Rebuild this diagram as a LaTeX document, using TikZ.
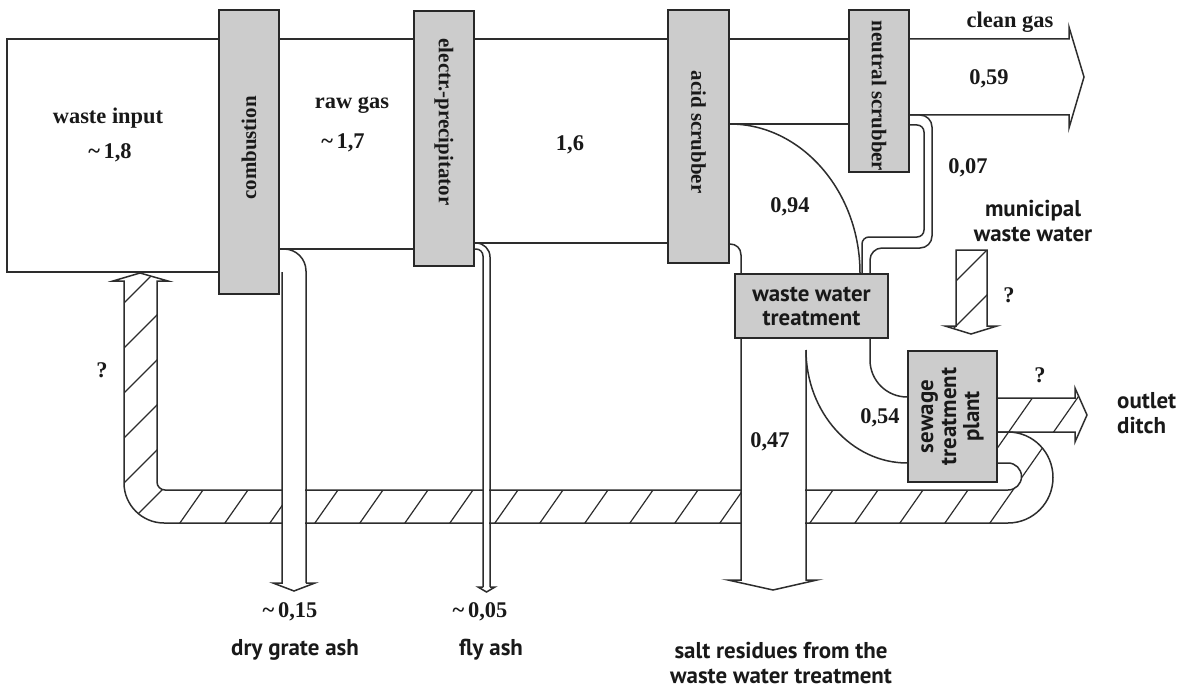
\documentclass[tikz,border=0pt]{standalone}
\usepackage{fontspec}
\setmainfont{Liberation Serif}
\newfontfamily\flaredfont{PT Sans}
\definecolor{linec}{RGB}{45,45,45}
\definecolor{boxfill}{RGB}{204,204,204}
\definecolor{boxline}{RGB}{40,40,40}
\definecolor{txtc}{RGB}{25,25,25}
\pgfdeclarelayer{flows}
\pgfsetlayers{flows,main}
\newcommand{\mainfnt}{\fontsize{22.5}{26}\selectfont\bfseries}
\newcommand{\boxfnt}{\fontsize{21}{24}\selectfont\bfseries}
\newcommand{\flfnt}{\flaredfont\fontsize{23}{26}\selectfont\bfseries}
\newcommand{\bandshape}{(997,432) -- (1008,432) .. controls (1033.1,432) and (1053,452.4) .. (1053,477.5) .. controls (1053,502.6) and (1033.1,523) .. (1008,523) -- (164,523) .. controls (142,523) and (124,505) .. (124,483) -- (124,281) -- (113,281) -- (140,273) -- (168,281) -- (157,281) -- (157,482) .. controls (157,486.4) and (160.6,490) .. (165,490) -- (1008,490) .. controls (1015.5,490) and (1021.5,484) .. (1021.5,476.5) .. controls (1021.5,469) and (1015.5,463) .. (1008,463) -- (997,463) -- cycle}
\newcommand{\outletshape}{(997,398) -- (1075,398) -- (1075,388) -- (1087,415) -- (1075,442) -- (1075,432) -- (997,432) -- cycle}
\newcommand{\munishape}{(956,250) -- (987,250) -- (987,326) -- (997,326) -- (971,334) -- (945,326) -- (956,326) -- cycle}
\newcommand{\hatchA}{\foreach \c in {6,51,...,1806} \draw[hatchln] (\c,0) -- ({\c-490},700);}
\newcommand{\hatchB}{\foreach \c in {22,67,...,1822} \draw[hatchln] (\c,0) -- ({\c-700},700);}
\begin{document}
\begin{tikzpicture}[x=1bp,y=-1bp,
  ln/.style={draw=linec,line width=1.5bp},
  hatchln/.style={draw=linec,line width=1.2bp},
  unitbox/.style={draw=boxline,line width=1.7bp,fill=boxfill,rectangle,inner sep=0pt},
  lbl/.style={text=txtc,inner sep=0pt,font=\mainfnt},
  boxlbl/.style={text=txtc,inner sep=0pt,font=\boxfnt},
  flbl/.style={text=txtc,inner sep=0pt,font=\flfnt,align=center}]
\useasboundingbox (0,0) rectangle (1177,689);

% process units
\node[unitbox,minimum width=60bp,minimum height=284bp] (comb) at (249,152) {};
\node[unitbox,minimum width=60bp,minimum height=255bp] (elp) at (444,138.5) {};
\node[unitbox,minimum width=61bp,minimum height=253bp] (acid) at (698.5,136.5) {};
\node[unitbox,minimum width=60bp,minimum height=162bp] (neut) at (879,91) {};
\node[unitbox,minimum width=153bp,minimum height=64bp] (wwt) at (811.5,306) {};
\node[unitbox,minimum width=89bp,minimum height=131bp] (stp) at (952.5,416.5) {};

\begin{pgfonlayer}{flows}
\fill[white] (0,0) rectangle (1177,689);
% recirculation band (hatched)
\begin{scope}
\clip \bandshape;
\begin{scope}
\clip (168,0) rectangle (1177,689);
\hatchA
\end{scope}
\begin{scope}
\clip (0,0) rectangle (168,689);
\hatchB
\end{scope}
\end{scope}
\draw[ln] \bandshape;
% outlet ditch arrow (hatched)
\begin{scope}
\clip \outletshape;
\hatchA
\end{scope}
\draw[ln] \outletshape;
% municipal waste water arrow (hatched)
\begin{scope}
\clip \munishape;
\hatchB
\end{scope}
\draw[ln] \munishape;

% waste input
\draw[ln] (comb.west |- 0,39) -- (7,39) -- (7,272) -- (comb.west |- 0,272);
% raw gas
\draw[ln] (comb.east |- 0,39) -- (elp.west |- 0,39);
\draw[ln] (comb.east |- 0,249) -- (elp.west |- 0,249);
% 1,6
\draw[ln] (elp.east |- 0,39) -- (acid.west |- 0,39);
\draw[ln] (elp.east |- 0,243) -- (acid.west |- 0,243);
% acid -> neutral
\draw[ln] (acid.east |- 0,39) -- (neut.west |- 0,39);
\draw[ln] (acid.east |- 0,124) -- (neut.west |- 0,124);
% clean gas
\draw[ln] (neut.east |- 0,39) -- (1069,39) -- (1069,27) -- (1084,77) -- (1069,128) -- (1069,115) -- (neut.east |- 0,115);
% 0,94
\draw[ln] (acid.east |- 0,124) .. controls (801,124) and (860,191) .. (wwt.north -| 860,0);
\draw[ln] (acid.east |- 0,244) .. controls (736,244) and (741,248) .. (741,255) -- (wwt.north -| 741,0);
% 0,07 pipe
\draw[ln,rounded corners=12bp] (neut.east |- 0,115) -- (932,115) -- (932,248) -- (870,248) -- (wwt.north -| 870,0);
\draw[ln,rounded corners=7bp] (neut.east |- 0,125) -- (924,125) -- (924,237) -- (862,237) -- (wwt.north -| 862,0);
% 0,54
\draw[ln] (wwt.south -| 870,0) -- (870,360) .. controls (870,380.4) and (886.6,397) .. (stp.west |- 0,397);
\draw[ln] (806,350) .. controls (806,412.4) and (851.7,463) .. (stp.west |- 0,463);
% salt residues arrow
\fill[white] (742,340) rectangle (805,579);
\draw[ln] (wwt.south -| 741,0) -- (741,580) -- (728,580) -- (773,590) -- (817,580) -- (806,580) -- (806,350);
% dry grate ash
\fill[white] (283,300) rectangle (305,582);
\draw[ln,rounded corners=22bp] (comb.east |- 0,249) -- (306,249) -- (306,583);
\draw[ln] (306,583) -- (315,583) -- (294,591) -- (273,583) -- (282,583) -- (282,272);
% fly ash
\fill[white] (484,300) rectangle (489,586);
\draw[ln,rounded corners=14bp] (elp.east |- 0,243) -- (490,243) -- (490,587);
\draw[ln,rounded corners=7bp] (elp.east |- 0,249) -- (483,249) -- (483,587);
\draw[ln] (490,587) -- (495,587) -- (486.5,592) -- (478,587) -- (483,587);
\end{pgfonlayer}

% unit labels
\node[boxlbl,rotate=90] (tcomb) at (comb.center |- 0,148) {combustion};
\node[boxlbl,rotate=-90] (telp) at (elp.center |- 0,122) {electr.-precipitator};
\node[boxlbl,rotate=-90] (tacid) at (acid.center |- 0,132) {acid scrubber};
\node[boxlbl,rotate=-90] (tneut) at (neut.center |- 0,96) {neutral scrubber};
\node[flbl] (twwt) at (wwt.center) {waste water\\[-2bp]treatment};
\node[flbl,rotate=90] (tstp) at (stp.center) {sewage\\[-3bp]treatment\\[-3bp]plant};

% flow labels
\node[lbl] (l1) at (108,118) {waste input};
\node[lbl] (l2) at (110,153) {\textasciitilde\,1,8};
\node[lbl] (l3) at (352,105) {raw gas};
\node[lbl] (l4) at (343,143) {\textasciitilde\,1,7};
\node[lbl] (l5) at (570,145) {1,6};
\node[lbl] (l6) at (790,207) {0,94};
\node[lbl] (l7) at (1010,22) {clean gas};
\node[lbl] (l8) at (989,79) {0,59};
\node[lbl] (l9) at (968,168) {0,07};
\node[flbl] (l10) at (1033,221) {municipal\\[-1bp]waste water};
\node[lbl] (l11) at (1009,295) {?};
\node[lbl] (l12) at (1040,375) {?};
\node[flbl,anchor=west,align=left] (l13) at (1117,413) {outlet\\[-1bp]ditch};
\node[lbl] (l14) at (880,418) {0,54};
\node[lbl] (l15) at (770,442) {0,47};
\node[lbl] (l16) at (102,370) {?};
\node[lbl] (l17) at (290,612) {\textasciitilde\,0,15};
\node[flbl] (l18) at (295,650) {dry grate ash};
\node[lbl] (l19) at (480,612) {\textasciitilde\,0,05};
\node[flbl] (l20) at (491,650) {fly ash};
\node[flbl] (l21) at (781,663) {salt residues from the\\[-1bp]waste water treatment};
\end{tikzpicture}
\end{document}
